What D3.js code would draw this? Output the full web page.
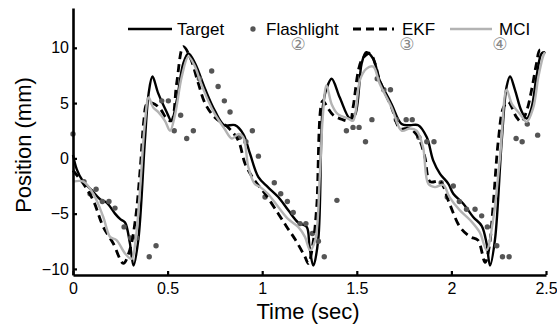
<!DOCTYPE html>
<html>
<head>
<meta charset="utf-8">
<script src="https://cdn.jsdelivr.net/npm/d3@7"></script>
<style>
  html, body { margin: 0; padding: 0; background: #fff; }
  svg { display: block; }
  text { font-family: "Liberation Sans", Arial, Helvetica, sans-serif; }
</style>
</head>
<body>
<svg id="chart" width="557" height="324"></svg>
<script>
// ---------- data ----------
const xTicks = [0, 0.5, 1, 1.5, 2, 2.5];
const yTicks = [-10, -5, 0, 5, 10];
const seriesNames = ["Target", "Flashlight", "EKF", "MCI"];
const phaseLabels = ["②", "③", "④"];
const phaseTimes = [1.19, 1.765, 2.256];

const targetT = [0, 0.02, 0.05, 0.1, 0.143, 0.178, 0.222, 0.25, 0.275, 0.30, 0.32, 0.345, 0.38, 0.40, 0.42, 0.45, 0.495, 0.52, 0.548, 0.583, 0.61, 0.645, 0.70, 0.75, 0.80, 0.856, 0.90, 0.936, 0.98, 1.03, 1.085, 1.138, 1.19, 1.235, 1.25, 1.27, 1.296, 1.32, 1.34, 1.367, 1.41, 1.464, 1.49, 1.526, 1.55, 1.587, 1.62, 1.684, 1.737, 1.78, 1.825, 1.87, 1.904, 1.94, 1.984, 2.01, 2.063, 2.115, 2.16, 2.186, 2.204, 2.23, 2.266, 2.292, 2.31, 2.336, 2.37, 2.398, 2.424, 2.45, 2.477, 2.495];
const targetY = [0.3, -1.0, -2.0, -2.9, -3.7, -4.0, -5.0, -5.5, -5.8, -7.6, -9.7, -7.4, 1.6, 5.9, 7.4, 5.9, 4.2, 3.4, 5.2, 8.6, 9.5, 8.6, 6.2, 4.3, 3.0, 3.0, 2.2, 0.4, -1.7, -2.6, -3.5, -4.7, -5.8, -6.2, -8.0, -9.7, -7.4, 4.6, 6.3, 7.2, 5.5, 3.6, 3.9, 8.6, 9.6, 9.0, 7.1, 4.9, 3.1, 3.0, 3.0, 1.9, -0.2, -1.4, -2.3, -3.2, -4.1, -5.3, -6.1, -7.7, -9.7, -7.4, 1.6, 6.5, 7.4, 6.2, 4.3, 3.6, 4.6, 7.4, 9.5, 9.6];

const flashT = [0.0, 0.058, 0.09, 0.122, 0.155, 0.19, 0.222, 0.27, 0.305, 0.337, 0.403, 0.439, 0.469, 0.504, 0.535, 0.569, 0.601, 0.636, 0.668, 0.733, 0.767, 0.80, 0.83, 0.88, 0.914, 0.948, 0.98, 1.015, 1.064, 1.098, 1.133, 1.164, 1.2, 1.231, 1.265, 1.297, 1.328, 1.395, 1.445, 1.48, 1.512, 1.546, 1.58, 1.608, 1.643, 1.678, 1.709, 1.761, 1.793, 1.828, 1.87, 1.908, 1.946, 1.978, 2.01, 2.042, 2.08, 2.125, 2.16, 2.19, 2.24, 2.27, 2.305, 2.342, 2.374, 2.401, 2.456];
const flashY = [2.2, -2.1, -3.2, -2.8, -3.9, -3.9, -4.5, -6.2, -7.2, -7.2, -8.9, -7.9, 5.2, 5.2, 2.5, 3.9, 1.8, 2.5, 7.2, 7.9, 6.5, 5.2, 4.2, 1.9, 1.5, 2.5, 0.2, -3.5, -2.2, -3.2, -3.9, -4.9, -5.9, -5.9, -6.8, -7.5, -8.9, -3.8, 2.5, 2.8, 2.8, 1.5, 3.5, 7.2, 6.2, 6.2, 3.5, 3.5, 3.5, 1.9, 1.5, 1.5, -2.2, -3.5, -2.5, -3.9, -4.6, -4.6, -5.2, -6.2, -7.9, -8.9, -8.9, 1.8, 1.5, 3.1, 2.1];

const ekfT = [0, 0.055, 0.107, 0.16, 0.213, 0.266, 0.30, 0.33, 0.355, 0.375, 0.39, 0.42, 0.46, 0.495, 0.52, 0.548, 0.583, 0.618, 0.662, 0.70, 0.75, 0.82, 0.874, 0.91, 0.96, 1.015, 1.085, 1.13, 1.173, 1.226, 1.244, 1.27, 1.288, 1.32, 1.345, 1.376, 1.41, 1.464, 1.48, 1.526, 1.57, 1.596, 1.62, 1.684, 1.728, 1.78, 1.825, 1.86, 1.887, 1.94, 1.99, 2.045, 2.1, 2.14, 2.178, 2.2, 2.22, 2.248, 2.275, 2.30, 2.345, 2.37, 2.398, 2.424, 2.45, 2.468, 2.495];
const ekfY = [-1.1, -2.3, -3.8, -6.2, -7.7, -9.5, -8.3, -5.5, -1.0, 3.5, 4.9, 5.0, 4.5, 3.6, 3.4, 6.8, 10.1, 9.2, 6.8, 4.9, 3.7, 2.8, 1.6, -0.5, -2.0, -3.2, -5.0, -6.2, -7.3, -8.9, -9.5, -7.5, -4.4, 5.2, 4.6, 3.9, 3.6, 3.4, 4.6, 8.9, 9.5, 8.6, 7.1, 4.6, 2.7, 2.7, 1.9, 0.1, -2.1, -2.1, -4.1, -6.2, -7.1, -7.4, -9.4, -8.0, -4.4, 1.6, 4.6, 5.1, 3.7, 3.3, 4.3, 6.2, 8.6, 9.8, 9.5];

const mciT = [0, 0.055, 0.107, 0.16, 0.196, 0.23, 0.275, 0.31, 0.33, 0.354, 0.38, 0.40, 0.424, 0.45, 0.486, 0.513, 0.54, 0.575, 0.61, 0.645, 0.67, 0.715, 0.75, 0.80, 0.84, 0.874, 0.90, 0.927, 0.96, 0.99, 1.03, 1.085, 1.138, 1.19, 1.226, 1.253, 1.28, 1.305, 1.32, 1.34, 1.367, 1.40, 1.455, 1.48, 1.517, 1.55, 1.587, 1.62, 1.684, 1.737, 1.78, 1.816, 1.85, 1.878, 1.913, 1.957, 1.99, 2.045, 2.1, 2.15, 2.186, 2.22, 2.257, 2.292, 2.32, 2.363, 2.398, 2.433, 2.46, 2.486, 2.495];
const mciY = [-2.1, -2.1, -3.2, -5.3, -7.1, -7.4, -8.6, -9.1, -7.5, -2.9, 3.2, 5.5, 4.6, 4.2, 3.4, 2.5, 4.0, 7.4, 9.2, 8.3, 7.1, 5.2, 4.0, 2.7, 1.8, 2.2, 1.9, -0.8, -2.3, -2.6, -3.2, -4.4, -5.5, -6.2, -7.1, -8.3, -7.4, -1.4, 3.7, 6.6, 4.9, 4.0, 3.6, 3.4, 7.1, 8.1, 8.3, 6.8, 4.6, 2.5, 2.7, 2.5, 1.0, -2.3, -2.6, -2.4, -3.5, -4.7, -5.6, -6.7, -8.3, -5.6, 0.1, 6.2, 4.9, 4.0, 3.3, 4.6, 7.4, 9.3, 9.6];

// ---------- chart ----------
const svg = d3.select("#chart");
const x = d3.scaleLinear().domain([0, 2.5]).range([73, 546]);
const y = d3.scaleLinear().domain([-10.55, 13.6]).range([275, 8]);

const zip = (ts, vs) => ts.map((t, i) => ({ t, v: vs[i] }));
const line = d3.line().x(d => x(d.t)).y(d => y(d.v)).curve(d3.curveCatmullRom.alpha(0.5));

const plot = svg.append("g");

// Target
plot.append("path").datum(zip(targetT, targetY))
  .attr("d", line).attr("fill", "none").attr("stroke", "#000").attr("stroke-width", 2.4);

// Flashlight
plot.selectAll("circle.flash").data(zip(flashT, flashY)).enter().append("circle")
  .attr("class", "flash").attr("cx", d => x(d.t)).attr("cy", d => y(d.v)).attr("r", 2.7)
  .attr("fill", "#555");

// EKF
plot.append("path").datum(zip(ekfT, ekfY))
  .attr("d", line).attr("fill", "none").attr("stroke", "#000").attr("stroke-width", 2.8)
  .attr("stroke-dasharray", "8,5");

// MCI
plot.append("path").datum(zip(mciT, mciY))
  .attr("d", line).attr("fill", "none").attr("stroke", "#b3b3b3").attr("stroke-width", 2.4);

// Axes
const xAxis = d3.axisBottom(x).tickValues(xTicks).tickFormat(d3.format("")).tickSizeInner(-4).tickSizeOuter(0).tickPadding(8);
const yAxis = d3.axisLeft(y).tickValues(yTicks).tickFormat(d => d < 0 ? "\u2212" + Math.abs(d) : d).tickSizeInner(-4).tickSizeOuter(0).tickPadding(4);

const gx = svg.append("g").attr("transform", "translate(0,275)").call(xAxis);
const gy = svg.append("g").attr("transform", "translate(73,0)").call(yAxis);
[gx, gy].forEach(g => {
  g.select(".domain").attr("stroke", "#000").attr("stroke-width", 2.6);
  g.selectAll(".tick line").attr("stroke", "#000").attr("stroke-width", 2.2);
  g.selectAll(".tick text").attr("fill", "#000").style("font-size", "16px")
    .style("font-family", "'Liberation Sans', Arial, sans-serif");
});
gx.selectAll(".tick text").attr("dy", "0.71em").attr("y", 8);

// Axis labels
svg.append("text").attr("x", 308).attr("y", 319).attr("text-anchor", "middle")
  .style("font-size", "22px").text("Time (sec)");
svg.append("text").attr("transform", "translate(31,145) rotate(-90)").attr("text-anchor", "middle")
  .style("font-size", "22px").text("Position (mm)");

// Phase markers
svg.selectAll("text.phase").data(phaseLabels).enter().append("text")
  .attr("class", "phase")
  .attr("x", (d, i) => x(phaseTimes[i])).attr("y", 50)
  .attr("text-anchor", "middle").attr("fill", "#888")
  .style("font-family", "'DejaVu Sans', sans-serif").style("font-size", "17px")
  .text(d => d);

// Legend
const lg = svg.append("g");
const ly = 29;
lg.append("line").attr("x1", 128).attr("x2", 172).attr("y1", ly).attr("y2", ly)
  .attr("stroke", "#000").attr("stroke-width", 2.4);
lg.append("text").attr("x", 177).attr("y", ly + 6).style("font-size", "17px").text(seriesNames[0]);
lg.append("circle").attr("cx", 253).attr("cy", ly).attr("r", 2.7).attr("fill", "#555");
lg.append("text").attr("x", 266).attr("y", ly + 6).style("font-size", "17px").text(seriesNames[1]);
lg.append("line").attr("x1", 353).attr("x2", 394).attr("y1", ly).attr("y2", ly)
  .attr("stroke", "#000").attr("stroke-width", 2.8).attr("stroke-dasharray", "8,5");
lg.append("text").attr("x", 402).attr("y", ly + 6).style("font-size", "17px").text(seriesNames[2]);
lg.append("line").attr("x1", 450).attr("x2", 492).attr("y1", ly).attr("y2", ly)
  .attr("stroke", "#b3b3b3").attr("stroke-width", 2.4);
lg.append("text").attr("x", 499).attr("y", ly + 6).style("font-size", "17px").text(seriesNames[3]);
</script>
</body>
</html>
